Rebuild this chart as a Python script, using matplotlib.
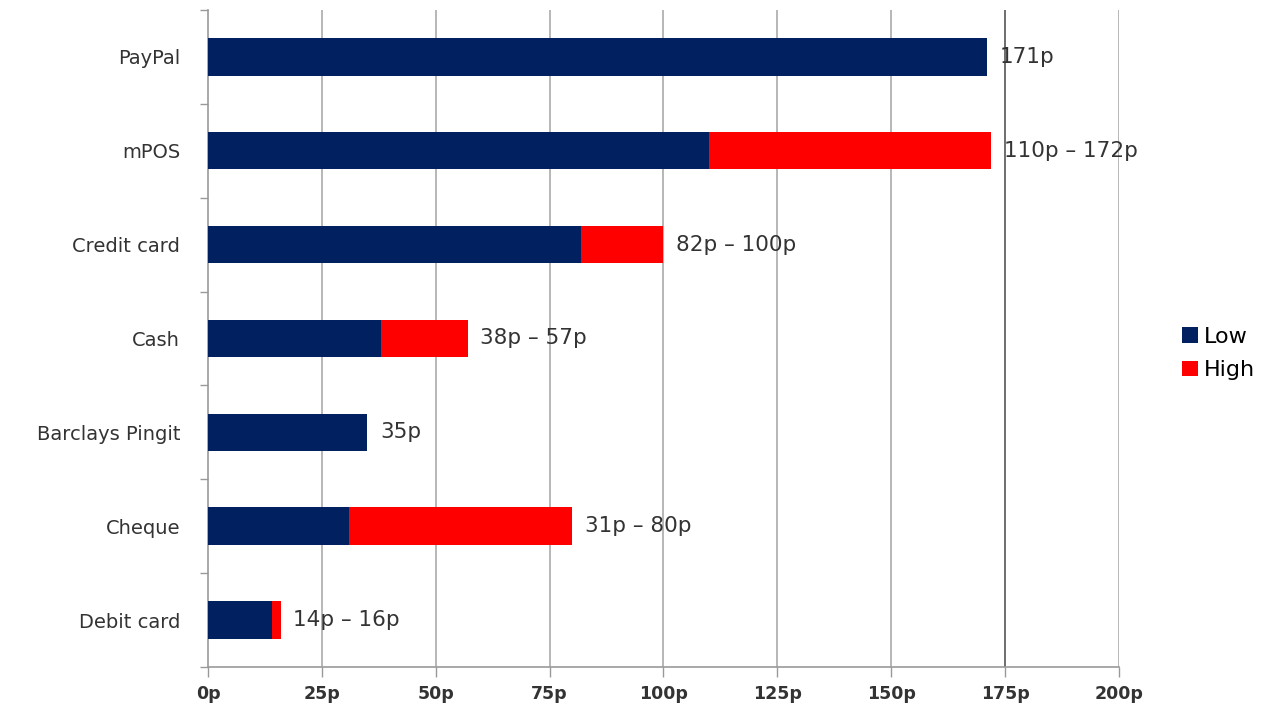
import matplotlib.pyplot as plt
import numpy as np

methods = ["PayPal", "mPOS", "Credit card", "Cash", "Barclays Pingit", "Cheque", "Debit card"]
low = [171, 110, 82, 38, 35, 31, 14]
high = [171, 172, 100, 57, 35, 80, 16]
xticks = [0, 25, 50, 75, 100, 125, 150, 175, 200]

navy = "#002060"
red = "#ff0000"

fig = plt.figure(figsize=(12.7, 7.07), dpi=100)
ax = fig.add_axes([0.1638, 0.0566, 0.7172, 0.9294])

y = np.arange(len(methods))
extra = [h - l for l, h in zip(low, high)]
ax.barh(y, low, height=0.4, color=navy, label="Low", zorder=3)
ax.barh(y, extra, left=low, height=0.4, color=red, label="High", zorder=3)

for i, (l, h) in enumerate(zip(low, high)):
    txt = f"{l}p" if l == h else f"{l}p \u2013 {h}p"
    ax.annotate(txt, (h, i), xytext=(9, 0), textcoords="offset points",
                va="center", ha="left", fontsize=15.5, color="#333333",
                family="DejaVu Sans")

ax.set_xlim(0, 200)
ax.set_ylim(len(methods) - 0.5, -0.5)
ax.set_xticks(xticks)
ax.set_xticklabels([f"{v}p" for v in xticks], fontsize=12.5, fontweight="bold",
                   family="DejaVu Sans", color="#333333")
ax.set_yticks(y)
ax.set_yticklabels(methods, fontsize=14, family="DejaVu Sans", color="#333333")
ax.tick_params(axis="y", which="major", length=0, pad=20)
ax.set_yticks(np.arange(-0.5, len(methods), 1), minor=True)
ax.tick_params(axis="y", which="minor", length=6, color="#999999", width=1)
ax.tick_params(axis="x", length=7, color="#999999", width=1, pad=6)

for v in xticks[1:]:
    c = "#555555" if v == 175 else "#aaaaaa"
    ax.axvline(v, color=c, lw=1.2, zorder=1)

for s in ["top", "right"]:
    ax.spines[s].set_visible(False)
for s in ["left", "bottom"]:
    ax.spines[s].set_color("#999999")
    ax.spines[s].set_linewidth(1.2)

fig.legend(loc="center left", bbox_to_anchor=(0.915, 0.5), frameon=False,
           prop={"family": "DejaVu Sans", "size": 16}, handlelength=0.7,
           handleheight=0.7, handletextpad=0.3, labelspacing=0.6)

fig.savefig("out.png", dpi=100)
